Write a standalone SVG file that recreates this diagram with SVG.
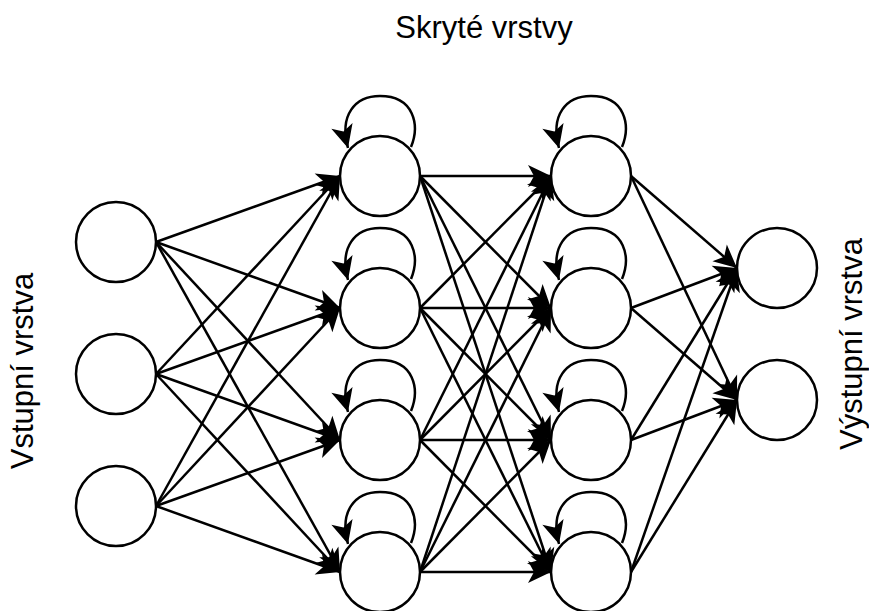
<svg xmlns="http://www.w3.org/2000/svg" width="869" height="611" viewBox="0 0 869 611">
<style>
.node{fill:#fff;stroke:#000;stroke-width:2.5}
.edge{fill:none;stroke:#000;stroke-width:2.5;marker-end:url(#arr)}
.lbl{font-family:"Liberation Sans",Arial,sans-serif;font-size:31px;fill:#000;text-anchor:middle}
</style>
<defs>
<marker id="arr" viewBox="-26 -13 28 26" refX="0" refY="0" markerWidth="28" markerHeight="26" markerUnits="userSpaceOnUse" orient="auto">
<path d="M0,0 L-23,-11 L-17,0 L-23,11 Z" fill="#000"/>
</marker>
</defs>
<rect width="869" height="611" fill="#fff"/>
<g id="labels">
<text class="lbl" x="484" y="38">Skryté vrstvy</text>
<text class="lbl" transform="translate(33,371) rotate(-90)">Vstupní vrstva</text>
<text class="lbl" transform="translate(862,344) rotate(-90)">Výstupní vrstva</text>
</g>
<g id="nodes">
<g id="in1"><circle class="node" cx="116" cy="242" r="40"/></g>
<g id="in2"><circle class="node" cx="116" cy="374" r="40"/></g>
<g id="in3"><circle class="node" cx="116" cy="506" r="40"/></g>
<g id="h1a"><circle class="node" cx="380" cy="176" r="40"/></g>
<g id="h1b"><circle class="node" cx="380" cy="308" r="40"/></g>
<g id="h1c"><circle class="node" cx="380" cy="440" r="40"/></g>
<g id="h1d"><circle class="node" cx="380" cy="572" r="40"/></g>
<g id="h2a"><circle class="node" cx="591" cy="176" r="40"/></g>
<g id="h2b"><circle class="node" cx="591" cy="308" r="40"/></g>
<g id="h2c"><circle class="node" cx="591" cy="440" r="40"/></g>
<g id="h2d"><circle class="node" cx="591" cy="572" r="40"/></g>
<g id="out1"><circle class="node" cx="777" cy="268" r="40"/></g>
<g id="out2"><circle class="node" cx="777" cy="400" r="40"/></g>
</g>
<g id="connectors">
<path class="edge" d="M156,242 L340,176"/>
<path class="edge" d="M156,242 L340,308"/>
<path class="edge" d="M156,242 L340,440"/>
<path class="edge" d="M156,242 L340,572"/>
<path class="edge" d="M156,374 L340,176"/>
<path class="edge" d="M156,374 L340,308"/>
<path class="edge" d="M156,374 L340,440"/>
<path class="edge" d="M156,374 L340,572"/>
<path class="edge" d="M156,506 L340,176"/>
<path class="edge" d="M156,506 L340,308"/>
<path class="edge" d="M156,506 L340,440"/>
<path class="edge" d="M156,506 L340,572"/>
<path class="edge" d="M420,176 L551,176"/>
<path class="edge" d="M420,176 L551,308"/>
<path class="edge" d="M420,176 L551,440"/>
<path class="edge" d="M420,176 L551,572"/>
<path class="edge" d="M420,308 L551,176"/>
<path class="edge" d="M420,308 L551,308"/>
<path class="edge" d="M420,308 L551,440"/>
<path class="edge" d="M420,308 L551,572"/>
<path class="edge" d="M420,440 L551,176"/>
<path class="edge" d="M420,440 L551,308"/>
<path class="edge" d="M420,440 L551,440"/>
<path class="edge" d="M420,440 L551,572"/>
<path class="edge" d="M420,572 L551,176"/>
<path class="edge" d="M420,572 L551,308"/>
<path class="edge" d="M420,572 L551,440"/>
<path class="edge" d="M420,572 L551,572"/>
<path class="edge" d="M631,176 L737,268"/>
<path class="edge" d="M631,176 L737,400"/>
<path class="edge" d="M631,308 L737,268"/>
<path class="edge" d="M631,308 L737,400"/>
<path class="edge" d="M631,440 L737,268"/>
<path class="edge" d="M631,440 L737,400"/>
<path class="edge" d="M631,572 L737,268"/>
<path class="edge" d="M631,572 L737,400"/>
<path class="edge" d="M411,147 C420,125 414,96 380,96 C355,96 339,115 348,148"/>
<path class="edge" d="M411,279 C420,257 414,228 380,228 C355,228 339,247 348,280"/>
<path class="edge" d="M411,411 C420,389 414,360 380,360 C355,360 339,379 348,412"/>
<path class="edge" d="M411,543 C420,521 414,492 380,492 C355,492 339,511 348,544"/>
<path class="edge" d="M622,147 C631,125 625,96 591,96 C566,96 550,115 559,148"/>
<path class="edge" d="M622,279 C631,257 625,228 591,228 C566,228 550,247 559,280"/>
<path class="edge" d="M622,411 C631,389 625,360 591,360 C566,360 550,379 559,412"/>
<path class="edge" d="M622,543 C631,521 625,492 591,492 C566,492 550,511 559,544"/>
</g>
</svg>
